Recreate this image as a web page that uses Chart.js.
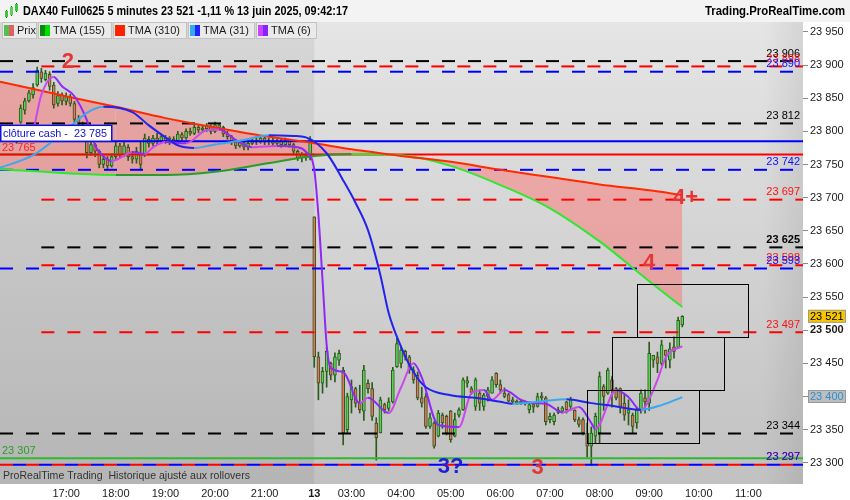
<!DOCTYPE html>
<html><head><meta charset="utf-8">
<script src="https://cdn.jsdelivr.net/npm/chart.js@4.4.1/dist/chart.umd.min.js"></script>
<style>html,body{margin:0;padding:0;background:#fff;}canvas{display:block}</style>
</head><body>
<canvas id="c" width="850" height="500"></canvas>
<script>
// ---------- DATA ----------
// candles: day 12 16:00-21:55 (72 bars), day 13 02:15-09:40 (90 bars)
const opens = [
23784,23814,23832,23846,23855,23870,23890,23878,23886,23870,23842,23855,23845,23852,23842,23818,23806,23795,23768,23780,
23770,23750,23758,23748,23762,23778,23765,23776,23762,23758,23765,23764,23788,23782,23790,23786,23790,23786,23788,23786,
23795,23790,23800,23797,23806,23802,23804,23808,23800,23810,23806,23796,23792,23784,23778,23783,23776,23782,23786,23784,
23790,23784,23786,23782,23785,23780,23786,23780,23770,23760,23764,23760,
23671,23460,23420,23438,23450,23432,23455,23440,23350,23395,23412,23390,23378,23420,23412,23360,23345,23388,23382,23392,
23445,23450,23468,23460,23440,23432,23398,23400,23355,23360,23340,23372,23370,23378,23340,23372,23380,23420,23412,23385,
23405,23385,23400,23405,23435,23418,23405,23403,23395,23393,23390,23392,23380,23388,23385,23400,23398,23365,23362,23380,
23378,23392,23385,23379,23365,23365,23345,23325,23340,23345,23415,23405,23425,23412,23412,23390,23375,23372,23360,23380,
23398,23390,23455,23460,23450,23470,23455,23475,23474,23508];
const highs = [
23800,23840,23850,23862,23872,23897,23895,23892,23890,23874,23860,23858,23858,23856,23845,23824,23814,23798,23786,23782,
23772,23764,23762,23766,23784,23782,23784,23780,23770,23776,23784,23796,23792,23794,23797,23796,23794,23792,23792,23800,
23798,23804,23805,23810,23810,23808,23812,23810,23814,23812,23808,23800,23794,23786,23786,23785,23786,23790,23792,23792,
23792,23790,23790,23788,23788,23790,23788,23782,23772,23768,23768,23792,
23671,23467,23444,23474,23452,23466,23470,23444,23405,23425,23414,23417,23447,23425,23421,23368,23399,23390,23398,23444,
23488,23474,23470,23462,23445,23437,23414,23405,23375,23362,23379,23375,23372,23379,23375,23383,23428,23430,23415,23428,
23410,23405,23414,23430,23436,23425,23413,23405,23399,23395,23395,23393,23390,23390,23405,23406,23400,23375,23375,23384,
23385,23393,23399,23380,23369,23368,23360,23354,23375,23437,23418,23443,23430,23414,23413,23405,23395,23375,23384,23410,
23410,23482,23462,23467,23485,23470,23481,23490,23520,23522];
const lows = [
23782,23812,23826,23844,23850,23868,23874,23876,23862,23835,23838,23840,23840,23838,23812,23800,23788,23760,23764,23762,
23745,23745,23744,23746,23758,23760,23762,23756,23752,23752,23742,23762,23776,23778,23780,23782,23782,23780,23782,23784,
23786,23788,23794,23795,23798,23798,23800,23796,23798,23802,23792,23788,23780,23774,23776,23772,23772,23780,23780,23782,
23780,23780,23778,23778,23776,23778,23776,23766,23756,23754,23756,23757,
23444,23395,23405,23414,23425,23422,23447,23327,23345,23375,23384,23375,23364,23405,23364,23304,23345,23375,23378,23390,
23444,23443,23455,23435,23420,23395,23384,23352,23352,23322,23339,23352,23342,23331,23339,23369,23379,23414,23403,23379,
23379,23379,23393,23405,23414,23405,23398,23392,23390,23388,23388,23387,23375,23376,23384,23393,23357,23360,23357,23374,
23375,23375,23379,23362,23354,23342,23309,23296,23330,23330,23379,23403,23384,23395,23375,23364,23357,23345,23352,23375,
23375,23379,23444,23436,23447,23443,23443,23458,23473,23505];
const closes = [
23797,23835,23846,23858,23866,23892,23880,23888,23868,23840,23854,23846,23852,23842,23818,23808,23795,23768,23780,23770,
23750,23758,23748,23762,23778,23765,23778,23762,23758,23770,23750,23790,23782,23790,23786,23792,23786,23790,23785,23796,
23790,23800,23797,23806,23802,23805,23809,23800,23810,23806,23796,23792,23784,23778,23783,23776,23782,23787,23784,23790,
23784,23787,23782,23785,23780,23786,23780,23770,23760,23765,23760,23788,
23460,23420,23438,23468,23432,23460,23465,23345,23400,23415,23390,23380,23440,23412,23370,23338,23395,23380,23392,23440,
23480,23470,23460,23440,23425,23398,23390,23355,23368,23325,23375,23360,23345,23335,23365,23380,23425,23424,23406,23425,
23390,23402,23410,23425,23418,23410,23400,23393,23392,23390,23392,23389,23388,23384,23400,23398,23362,23370,23372,23376,
23383,23380,23395,23365,23358,23345,23325,23345,23370,23430,23400,23440,23410,23398,23385,23372,23380,23355,23380,23405,
23392,23465,23462,23450,23478,23462,23472,23468,23515,23521];

// moving averages (key points)
const tmaSlowTimes = ["12 15:40","12 17:00","12 18:00","12 19:00","12 20:00","12 21:00","13 02:15","13 03:00","13 04:00","13 05:00","13 06:00","13 07:00","13 08:00","13 09:00","13 09:40"];
const tma310 = [23875,23853,23837,23820,23806,23793,23782,23773,23763,23754,23742,23731,23720,23711,23704];
const tma155 = [23743,23737,23734,23734,23739,23751,23763,23766,23764,23748,23719,23684,23634,23574,23535];
const tma31Times = ["12 15:40","12 16:20","12 17:00","12 17:25","12 17:45","12 18:20","12 18:40","12 19:00","12 19:15","12 19:35","12 19:55","12 20:35","12 21:05","12 21:35","12 21:50","13 02:30","13 02:50","13 03:05","13 03:20","13 03:35","13 03:45","13 04:00","13 04:15","13 04:30","13 05:00","13 05:30","13 06:00","13 06:15","13 06:50","13 07:20","13 07:50","13 08:15","13 08:50","13 09:15","13 09:40"];
const tma31 = [23745,23764,23802,23828,23837,23829,23809,23791,23779,23775,23779,23787,23794,23793,23791,23767,23726,23692,23651,23583,23526,23475,23437,23414,23402,23398,23392,23389,23393,23396,23390,23386,23380,23387,23399];
const tma6Times = ["12 16:15","12 16:20","12 16:30","12 16:45","12 16:55","12 17:10","12 17:25","12 17:35","12 17:40","12 17:55","12 18:10","12 18:20","12 18:35","12 18:45","12 19:00","12 19:25","12 19:50","12 20:05","12 20:25","12 20:45","12 21:15","12 21:40","12 21:50","13 02:15","13 02:20","13 02:25","13 02:30","13 02:35","13 02:50","13 03:10","13 03:20","13 03:45","13 04:00","13 04:15","13 04:25","13 04:45","13 05:10","13 05:25","13 05:40","13 05:50","13 06:05","13 06:25","13 06:40","13 06:55","13 07:15","13 07:35","13 07:50","13 07:55","13 08:20","13 08:35","13 08:50","13 08:55","13 09:10","13 09:20","13 09:40"];
const tma6 = [23790,23802,23855,23882,23868,23853,23817,23779,23769,23755,23763,23769,23766,23776,23784,23782,23802,23803,23787,23776,23778,23776,23769,23742,23674,23576,23478,23443,23437,23390,23398,23375,23414,23450,23429,23357,23354,23405,23410,23395,23410,23395,23390,23389,23376,23384,23360,23351,23410,23399,23379,23384,23425,23459,23476];

// horizontal levels
const levelPrices = [23906,23898,23890,23812,23785,23765,23765,23742,23697,23625,23598,23593,23497,23344,23307,23297,23297];
const levelStarts = ["12 15:40","12 16:30","12 15:40","12 15:40","12 15:40","12 15:40","12 15:40","12 15:40","12 16:30","12 16:30","12 16:30","12 15:40","12 16:30","12 15:40","12 15:40","12 15:40","12 15:40"];
const levelEnds   = ["13 12:06","13 12:06","13 12:06","13 12:06","13 12:06","13 12:06","13 02:15","13 12:06","13 12:06","13 12:06","13 12:06","13 12:06","13 12:06","13 12:06","13 12:06","13 12:06","13 12:06"];
const levelLabelPrices = [23906,23898,23890,23812,23742,23697,23625,23598,23593,23497,23344,23297,23297];

// annotations
const noteTexts  = ["2","4+","4","3?","3"];
const noteTimes  = ["12 17:02","13 09:44","13 09:00","13 05:00","13 06:45"];
const notePrices = [23906,23701,23603,23296,23293];
const boxStarts = ["13 07:45","13 08:15","13 08:45"];
const boxEnds   = ["13 10:00","13 10:30","13 11:00"];
const boxLows   = [23330,23410,23490];
const boxHighs  = [23410,23490,23570];
const cashClose = 23785, prevLevel = 23765, greenLevel = 23307;
const lastPrice = 23521, tma31Last = 23400;

// axes
const xTickTimes  = ["12 17:00","12 18:00","12 19:00","12 20:00","12 21:00","13 02:15","13 03:00","13 04:00","13 05:00","13 06:00","13 07:00","13 08:00","13 09:00","13 10:00","13 11:00"];
const xTickLabels = ["17:00","18:00","19:00","20:00","21:00","13","03:00","04:00","05:00","06:00","07:00","08:00","09:00","10:00","11:00"];
const yTickValues = [23300,23350,23400,23450,23500,23550,23600,23650,23700,23750,23800,23850,23900,23950];
const xMinTime = "12 15:40", xMaxTime = "13 12:06", sessionStart = "13 02:15";
const yMin = 23268, yMax = 23965;

// ---------- HELPERS ----------
function tx(s){ const [d,hm]=s.split(' '); const [h,m]=hm.split(':').map(Number); const v=h+m/60; return d==='12'?v:v+19.75; }
function seq(day,start,n){ const out=[]; let [h,m]=start.split(':').map(Number); for(let i=0;i<n;i++){ out.push(day+' '+String(h).padStart(2,'0')+':'+String(m).padStart(2,'0')); m+=5; if(m>=60){m-=60;h++;} } return out; }
const candleTimes = seq('12','16:00',72).concat(seq('13','02:15',90));
function fmt(v){ return String(Math.round(v)).replace(/\B(?=(\d{3})+(?!\d))/g,' '); }
const FONT = "'Liberation Sans', Arial, sans-serif";
Chart.defaults.font.family = FONT;

const UP='#5ad05a', DOWN='#e8705c', OUT='#2b5a1a';
const wickData = candleTimes.map((t,i)=>({x:tx(t), y:[lows[i],highs[i]]}));
const bodyData = candleTimes.map((t,i)=>({x:tx(t), y:[Math.min(opens[i],closes[i]),Math.max(opens[i],closes[i])]}));
const bodyColors = candleTimes.map((t,i)=> closes[i]>=opens[i]?UP:DOWN);
const pts = (times,vals)=>times.map((t,i)=>({x:tx(t),y:vals[i]}));
const seg = (up,down)=>({borderColor: c => c.p1.parsed.y >= c.p0.parsed.y ? up : down});

const datasets = [
 {type:'bar', data:wickData, backgroundColor:OUT, borderWidth:0, barThickness:1, grouped:false, order:6},
 {type:'bar', data:bodyData, backgroundColor:bodyColors, borderColor:OUT, borderWidth:1, borderSkipped:false, barThickness:3, minBarLength:2, grouped:false, order:5},
 {type:'line', data:pts(tmaSlowTimes,tma310), borderColor:'#ff2a00', borderWidth:2, pointRadius:0, cubicInterpolationMode:'monotone', fill:3, backgroundColor:'rgba(255,110,110,0.48)', order:1},
 {type:'line', data:pts(tmaSlowTimes,tma155), borderColor:'#2ee82e', segment:seg('#2a9c2a','#2ee82e'), borderWidth:2, pointRadius:0, cubicInterpolationMode:'monotone', fill:false, order:1},
 {type:'line', data:pts(tma31Times,tma31), borderColor:'#2222ee', segment:seg('#3aa8ee','#2222ee'), borderWidth:2, pointRadius:0, cubicInterpolationMode:'monotone', fill:false, order:0},
 {type:'line', data:pts(tma6Times,tma6), borderColor:'#9028f8', segment:seg('#cc48ee','#9028f8'), borderWidth:2, pointRadius:0, cubicInterpolationMode:'monotone', fill:false, order:0}
];
const levelColors = ['#000','#ff0000','#0000ff','#000','#0000ff','#ff0000','#30b830','#0000ff','#ff0000','#000','#ff0000','#0000ff','#ff0000','#000','#30b830','#ff0000','#0000ff'];
const levelDashes = [[13,13],[13,13],[13,13],[13,13],[],[],[],[13,13],[13,13],[13,13],[13,13],[13,13],[13,13],[13,13],[],[13,13],[13,13]];
const levelOffsets = [0,0,0,0,0,0,0,0,0,0,0,0,0,0,0,0,13];
levelPrices.forEach((p,i)=>{
 datasets.push({type:'line', data:[{x:tx(levelStarts[i]),y:p},{x:tx(levelEnds[i]),y:p}], borderColor:levelColors[i], borderWidth:2, borderDash:levelDashes[i], borderDashOffset:levelOffsets[i], pointRadius:0, fill:false, tension:0, order:2});
});
const labelColors = ['#000','#ff1010','#1010ff','#000','#1010ff','#ff1010','#000','#ff1010','#1010ff','#ff1010','#000','#ff1010','#1010ff'];
const noteColors = ['#e53535','#e53535','#e53535','#1f1fd8','#e53535'];

function fitText(ctx,text,x,y,w){ const m=ctx.measureText(text).width; ctx.save(); ctx.translate(x,y); ctx.scale(w/m,1); ctx.fillText(text,0,0); ctx.restore(); }

const deco = {
 id:'deco',
 beforeDraw(chart){
  const {ctx, chartArea:a, scales:{x}} = chart;
  ctx.save();
  const g = ctx.createLinearGradient(0,a.top,0,a.bottom);
  g.addColorStop(0,'#e5e5e5'); g.addColorStop(1,'#c1c1c1');
  ctx.fillStyle=g; ctx.fillRect(a.left,a.top,a.width,a.height);
  const xb = x.getPixelForValue(tx(sessionStart));
  ctx.fillStyle='rgba(0,0,0,0.06)'; ctx.fillRect(a.left,a.top,xb-a.left,a.height);
  const h = ctx.createLinearGradient(a.right-40,0,a.right,0);
  h.addColorStop(0,'rgba(0,0,0,0)'); h.addColorStop(1,'rgba(0,0,0,0.07)');
  ctx.fillStyle=h; ctx.fillRect(a.right-40,a.top,40,a.height);
  ctx.restore();
 },
 afterDatasetsDraw(chart){
  const {ctx, chartArea:a, scales:{x,y}} = chart;
  ctx.save();
  // boxes
  ctx.strokeStyle='#000'; ctx.lineWidth=1;
  boxStarts.forEach((s,i)=>{
   const x0=Math.round(x.getPixelForValue(tx(s)))+0.5, x1=Math.round(x.getPixelForValue(tx(boxEnds[i])))+0.5;
   const y0=Math.round(y.getPixelForValue(boxHighs[i]))+0.5, y1=Math.round(y.getPixelForValue(boxLows[i]))+0.5;
   ctx.strokeRect(x0,y0,x1-x0,y1-y0);
  });
  // level labels
  ctx.font='11px '+FONT; ctx.textAlign='right'; ctx.textBaseline='bottom';
  levelLabelPrices.forEach((p,i)=>{
   ctx.fillStyle=labelColors[i];
   ctx.font=(p===23625?'bold ':'')+'11px '+FONT;
   ctx.fillText(fmt(p), a.right-3, y.getPixelForValue(p)-2);
  });
  // left labels
  const yc = y.getPixelForValue(cashClose);
  ctx.fillStyle='#fff'; ctx.fillRect(0.5,yc-16,111,16);
  ctx.strokeStyle='#1010e0'; ctx.lineWidth=1.5; ctx.strokeRect(0.75,yc-16,111,16);
  ctx.fillStyle='#1010d0'; ctx.font='11px '+FONT; ctx.textAlign='left'; ctx.textBaseline='middle';
  fitText(ctx,'clôture cash -  '+fmt(cashClose),3,yc-7.5,104);
  ctx.fillStyle='#ff2020'; ctx.fillText(fmt(prevLevel),2,y.getPixelForValue(prevLevel)-7);
  ctx.fillStyle='#2a9e2a'; ctx.fillText(fmt(greenLevel),2,y.getPixelForValue(greenLevel)-7);
  ctx.fillStyle='#333'; fitText(ctx,'ProRealTime Trading  Historique ajusté aux rollovers',3,a.bottom-8,247);
  // wave notes
  ctx.font='bold 22px '+FONT; ctx.textAlign='center'; ctx.textBaseline='middle';
  noteTexts.forEach((t,i)=>{ ctx.fillStyle=noteColors[i]; ctx.fillText(t, x.getPixelForValue(tx(noteTimes[i])), y.getPixelForValue(notePrices[i])+1); });
  ctx.restore();
 },
 afterDraw(chart){
  const {ctx, chartArea:a, scales:{y}} = chart;
  ctx.save();
  // title bar
  ctx.fillStyle='#f3f3f3'; ctx.fillRect(0,0,850,a.top);
  // icon
  const ic=[[5,11,6],[10,7,8],[15,4,7]];
  ic.forEach(([ix,iy,ih],k)=>{ ctx.fillStyle=OUT; ctx.fillRect(ix+1,iy-1,1,ih+2); ctx.fillStyle=k===1?UP:'#3cc83c'; ctx.fillRect(ix,iy,3,ih); });
  ctx.fillStyle='#000'; ctx.font='bold 12px '+FONT; ctx.textAlign='left'; ctx.textBaseline='middle';
  fitText(ctx,'DAX40 Full0625 5 minutes 23 521 -1,11 % 13 juin 2025, 09:42:17',23,12,325);
  fitText(ctx,'Trading.ProRealTime.com',705,12,140);
  // legend bar
  const items=[['Prix',2,37,['#50c050','#e06060']],['TMA (155)',38,112,['#0a8a0a','#00e000']],['TMA (310)',113,187,['#ff2200','#ff2200']],['TMA (31)',188,255,['#33aaee','#2222ff']],['TMA (6)',256,317,['#cc44ff','#8822ff']]];
  ctx.font='11px '+FONT;
  items.forEach(([t,x0,x1,c])=>{
   ctx.fillStyle='#eaeaea'; ctx.fillRect(x0,22,x1-x0,17);
   ctx.strokeStyle='#c2c2c2'; ctx.lineWidth=1; ctx.strokeRect(x0+0.5,22.5,x1-x0-1,16);
   ctx.fillStyle=c[0]; ctx.fillRect(x0+2,25,5,11); ctx.fillStyle=c[1]; ctx.fillRect(x0+7,25,5,11);
   ctx.fillStyle='#1a1a1a'; ctx.fillText(t,x0+15,31);
  });
  // axis price boxes
  const yl=y.getPixelForValue(lastPrice);
  ctx.fillStyle='#f7c600'; ctx.fillRect(808,yl-6.5,38,13); ctx.strokeStyle='#999'; ctx.strokeRect(808.5,yl-6,37,12);
  ctx.fillStyle='#000'; ctx.fillText(fmt(lastPrice),810,yl+0.5);
  const yt=y.getPixelForValue(tma31Last);
  ctx.fillStyle='#bdbdbd'; ctx.fillRect(808,yt-6.5,38,13); ctx.strokeStyle='#999'; ctx.strokeRect(808.5,yt-6,37,12);
  ctx.fillStyle='#2a90d0'; ctx.fillText(fmt(tma31Last),810,yt+0.5);
  ctx.restore();
 }
};

new Chart(document.getElementById('c'),{
 data:{datasets},
 options:{
  responsive:false, animation:false, events:[],
  layout:{padding:{top:22,left:0,right:0,bottom:0}},
  plugins:{legend:{display:false}, tooltip:{enabled:false}, filler:{drawTime:'beforeDatasetsDraw'}},
  scales:{
   x:{type:'linear', min:tx(xMinTime), max:tx(xMaxTime), offset:false,
      afterBuildTicks(s){ s.ticks = xTickTimes.map(t=>({value:tx(t)})); },
      afterFit(s){ s.height=16; },
      grid:{display:false, drawTicks:false}, border:{display:false},
      ticks:{autoSkip:false, maxRotation:0, padding:3, color:'#1a1a1a', font:c=>({size:11, weight:c.index===5?'bold':'normal'}), callback:(v,i)=>xTickLabels[i]}},
   y:{type:'linear', position:'right', min:yMin, max:yMax,
      afterBuildTicks(s){ s.ticks = yTickValues.map(v=>({value:v})); },
      afterFit(s){ s.width=47; },
      grid:{drawOnChartArea:false, drawTicks:true, tickLength:5, color:'#8a8a8a'}, border:{display:false},
      ticks:{padding:2, color:'#1a1a1a', font:c=>({size:11, weight:(c.tick&&c.tick.value===23500)?'bold':'normal'}), callback:v=>fmt(v)}}
  }
 },
 plugins:[deco]
});
</script></body></html>
